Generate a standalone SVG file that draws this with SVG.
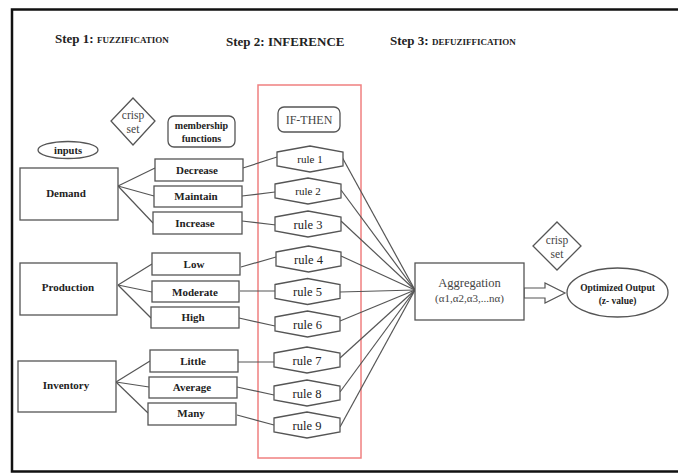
<svg xmlns="http://www.w3.org/2000/svg" width="678" height="473" viewBox="0 0 678 473">
<style>
.t{font-family:"Liberation Serif","Times New Roman",serif;fill:#222;text-anchor:middle}
.b{font-weight:bold}
.r{fill:#444}
.s{fill:#fff;stroke:#555;stroke-width:1.3}
.c{stroke:#555;stroke-width:1.2;fill:none}
</style>
<rect width="678" height="473" fill="#fff"/>
<path d="M678,9.5 H12 V471.5 H678" fill="none" stroke="#111" stroke-width="2.5"/>
<g id="titles">
<text class="t b" x="55" y="43" style="text-anchor:start;font-size:13px">Step 1: <tspan style="font-size:9px">FUZZIFICATION</tspan></text>
<text class="t b" x="226" y="46" style="text-anchor:start;font-size:13px">Step 2: INFERENCE</text>
<text class="t b" x="390" y="45" style="text-anchor:start;font-size:13px">Step 3: <tspan style="font-size:9px">DEFUZIFFICATION</tspan></text>
</g>
<rect id="inference-box" x="258" y="85" width="103" height="373" fill="none" stroke="#f08080" stroke-width="1.5"/>
<g id="connectors" class="c">
<line x1="118" y1="186" x2="155" y2="168"/>
<line x1="118" y1="186" x2="154" y2="196"/>
<line x1="118" y1="186" x2="153" y2="223"/>
<line x1="118" y1="285" x2="152" y2="264"/>
<line x1="118" y1="285" x2="152" y2="292"/>
<line x1="118" y1="285" x2="151" y2="318"/>
<line x1="116" y1="382" x2="150" y2="361"/>
<line x1="116" y1="382" x2="149" y2="387"/>
<line x1="116" y1="382" x2="148" y2="413"/>
<line x1="243" y1="168" x2="277" y2="157"/>
<line x1="242" y1="196" x2="275" y2="192"/>
<line x1="242" y1="221" x2="276" y2="225"/>
<line x1="241" y1="267" x2="276" y2="257"/>
<line x1="240" y1="291" x2="275" y2="291"/>
<line x1="239" y1="318" x2="275" y2="326"/>
<line x1="238" y1="362" x2="274" y2="362"/>
<line x1="237" y1="387" x2="274" y2="395"/>
<line x1="237" y1="415" x2="274" y2="425"/>
<line x1="342" y1="157" x2="415" y2="290"/>
<line x1="341" y1="190" x2="415" y2="290"/>
<line x1="341" y1="221" x2="415" y2="290"/>
<line x1="341" y1="256" x2="415" y2="290"/>
<line x1="340" y1="292" x2="415" y2="290"/>
<line x1="340" y1="321" x2="415" y2="290"/>
<line x1="340" y1="358" x2="415" y2="290"/>
<line x1="340" y1="392" x2="415" y2="290"/>
<line x1="340" y1="427" x2="415" y2="290"/>
<polygon points="524,288 545,288 545,283 565,293 545,303 545,298 524,298" fill="#fff" stroke="#555" stroke-width="1.2"/>
</g>
<g id="crisp-set-1">
<polygon class="s" points="133,98 155,121 133,145 111,121"/>
<text class="t r" x="133" y="119" style="font-size:11.5px">crisp</text>
<text class="t r" x="133" y="133" style="font-size:11.5px">set</text>
</g>
<g id="membership-functions">
<rect class="s" x="168" y="116" width="67" height="31" rx="6"/>
<text class="t b" x="201.5" y="129" style="font-size:10px">membership</text>
<text class="t b" x="201.5" y="142" style="font-size:10px">functions</text>
</g>
<g id="inputs">
<ellipse class="s" cx="68" cy="150" rx="30" ry="8.5"/>
<text class="t b" x="68" y="154" style="font-size:10.5px">inputs</text>
</g>
<g id="if-then">
<rect class="s" x="278" y="107" width="62" height="25" rx="6"/>
<text class="t r" x="309" y="124" style="font-size:12px">IF-THEN</text>
</g>
<g id="demand"><rect class="s" x="20" y="168" width="98" height="52"/><text class="t b" x="66" y="197" style="font-size:11px">Demand</text></g>
<g id="production"><rect class="s" x="20" y="263" width="97" height="52"/><text class="t b" x="68" y="291" style="font-size:11px">Production</text></g>
<g id="inventory"><rect class="s" x="18" y="361" width="98" height="51"/><text class="t b" x="66" y="389" style="font-size:11px">Inventory</text></g>
<g id="decrease"><rect class="s" x="155" y="159" width="88" height="22"/><text class="t b" x="197" y="174" style="font-size:11px">Decrease</text></g>
<g id="maintain"><rect class="s" x="154" y="186" width="88" height="21"/><text class="t b" x="196" y="200" style="font-size:11px">Maintain</text></g>
<g id="increase"><rect class="s" x="153" y="212" width="89" height="22"/><text class="t b" x="195" y="227" style="font-size:11px">Increase</text></g>
<g id="low"><rect class="s" x="152" y="253" width="88" height="22"/><text class="t b" x="194" y="268" style="font-size:11px">Low</text></g>
<g id="moderate"><rect class="s" x="152" y="281" width="87" height="21"/><text class="t b" x="195" y="296" style="font-size:11px">Moderate</text></g>
<g id="high"><rect class="s" x="151" y="307" width="88" height="21"/><text class="t b" x="193" y="321" style="font-size:11px">High</text></g>
<g id="little"><rect class="s" x="150" y="350" width="88" height="22"/><text class="t b" x="193" y="365" style="font-size:11px">Little</text></g>
<g id="average"><rect class="s" x="149" y="377" width="88" height="21"/><text class="t b" x="192" y="391" style="font-size:11px">Average</text></g>
<g id="many"><rect class="s" x="148" y="403" width="88" height="22"/><text class="t b" x="191" y="417" style="font-size:11px">Many</text></g>
<g id="rule1"><polygon class="s" points="277,152 310,146 343,152 343,166 310,172 277,166"/><text class="t" x="310" y="163" style="font-size:11px">rule 1</text></g>
<g id="rule2"><polygon class="s" points="275,184 308,178 341,184 341,198 308,204 275,198"/><text class="t" x="308" y="195" style="font-size:11px">rule 2</text></g>
<g id="rule3"><polygon class="s" points="275,217 308,211 341,217 341,231 308,237 275,231"/><text class="t" x="308" y="228.5" style="font-size:12.5px">rule 3</text></g>
<g id="rule4"><polygon class="s" points="276,252 308.5,246 341,252 341,266 308.5,272 276,266"/><text class="t" x="308.5" y="263.5" style="font-size:12.5px">rule 4</text></g>
<g id="rule5"><polygon class="s" points="275,284.5 307.5,278.5 340,284.5 340,298.5 307.5,304.5 275,298.5"/><text class="t" x="307.5" y="296" style="font-size:12.5px">rule 5</text></g>
<g id="rule6"><polygon class="s" points="275,317 307.5,311 340,317 340,331 307.5,337 275,331"/><text class="t" x="307.5" y="328.5" style="font-size:12.5px">rule 6</text></g>
<g id="rule7"><polygon class="s" points="274,353 307,347 340,353 340,367 307,373 274,367"/><text class="t" x="307" y="364.5" style="font-size:12.5px">rule 7</text></g>
<g id="rule8"><polygon class="s" points="274,386 307,380 340,386 340,400 307,406 274,400"/><text class="t" x="307" y="397.5" style="font-size:12.5px">rule 8</text></g>
<g id="rule9"><polygon class="s" points="274,418 307,412 340,418 340,432 307,438 274,432"/><text class="t" x="307" y="429.5" style="font-size:12.5px">rule 9</text></g>
<g id="aggregation">
<rect class="s" x="415" y="263" width="109" height="57"/>
<text class="t r" x="469.5" y="287" style="font-size:12.5px">Aggregation</text>
<text class="t r" x="469.5" y="302" style="font-size:11px">(α1,α2,α3,...nα)</text>
</g>
<g id="crisp-set-2">
<polygon class="s" points="557,222 581,246 557,270 533,246"/>
<text class="t r" x="557" y="244" style="font-size:11.5px">crisp</text>
<text class="t r" x="557" y="258" style="font-size:11.5px">set</text>
</g>
<g id="optimized-output">
<ellipse class="s" cx="617.5" cy="292.5" rx="50.5" ry="24.5"/>
<text class="t b" x="617.5" y="291" style="font-size:9.5px">Optimized Output</text>
<text class="t b" x="617.5" y="304" style="font-size:9.5px">(z- value)</text>
</g>
</svg>
